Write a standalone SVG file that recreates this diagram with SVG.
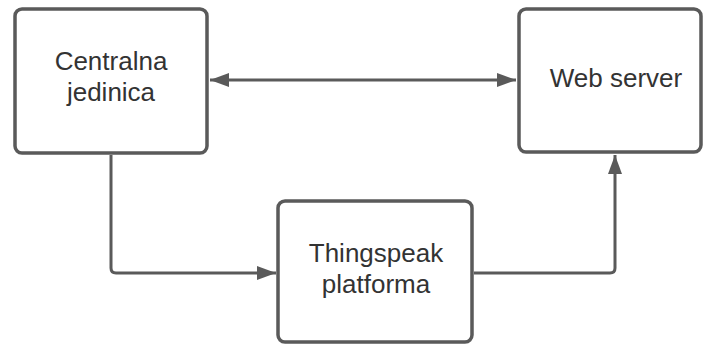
<svg xmlns="http://www.w3.org/2000/svg" width="703" height="344" viewBox="0 0 703 344">
<style>
.box{fill:#fff;stroke:#5a5a5a;stroke-width:3.5}
.lbl{font-family:"Liberation Sans",Arial,sans-serif;font-size:26px;fill:#333;text-anchor:middle}
.con{fill:none;stroke:#5a5a5a;stroke-width:3}
</style>
<defs>
<marker id="ah" viewBox="0 0 19 14" refX="19" refY="7" markerWidth="19" markerHeight="14" markerUnits="userSpaceOnUse" orient="auto-start-reverse">
<path d="M0,0 L19,7 L0,14 Z" fill="#5a5a5a"/>
</marker>
</defs>
<rect width="703" height="344" fill="#fff"/>
<g id="connectors">
<line class="con" x1="210" y1="80" x2="516" y2="80" marker-start="url(#ah)" marker-end="url(#ah)"/>
<path class="con" d="M111,155 V268 Q111,273 116,273 H276" marker-end="url(#ah)"/>
<path class="con" d="M474,273 H610 Q615,273 615,268 V155" marker-end="url(#ah)"/>
</g>
<g id="centralna">
<rect class="box" x="15" y="9" width="192" height="144" rx="7"/>
<text class="lbl" x="111" y="70">Centralna</text>
<text class="lbl" x="111" y="101">jedinica</text>
</g>
<g id="webserver">
<rect class="box" x="519" y="9" width="182" height="143" rx="7"/>
<text class="lbl" x="616" y="87">Web server</text>
</g>
<g id="thingspeak">
<rect class="box" x="278" y="201" width="194" height="141" rx="7"/>
<text class="lbl" x="376" y="262">Thingspeak</text>
<text class="lbl" x="376" y="293">platforma</text>
</g>
</svg>
